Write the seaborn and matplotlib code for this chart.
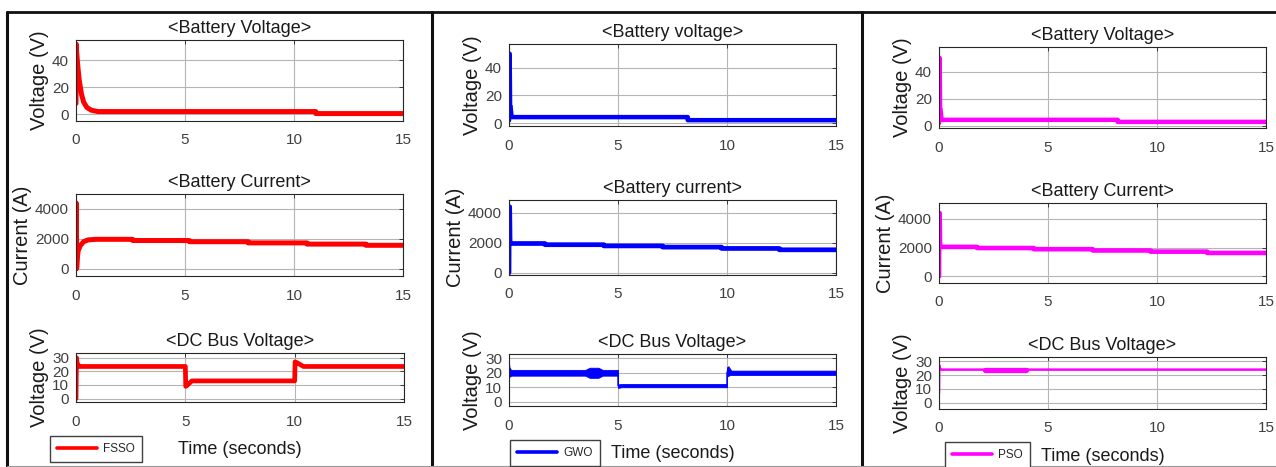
import matplotlib
matplotlib.use("Agg")
import matplotlib.pyplot as plt
from matplotlib.lines import Line2D
import seaborn as sns
import pandas as pd

# ---------------- data (time in seconds) ----------------
# FSSO
fsso_bv_t = [0, 0.01, 0.03, 0.08, 0.15, 0.25, 0.35, 0.5, 0.7, 1.0, 11.0, 11.0, 15]
fsso_bv_v = [8, 52, 46, 36, 25, 15, 9, 5, 3, 2, 2, 0.5, 0.5]
fsso_bc_t = [0, 0.01, 0.03, 0.06, 0.1, 0.2, 0.35, 0.55, 0.9, 2.6, 2.6, 5.2, 5.2,
             7.9, 7.9, 10.6, 10.6, 13.3, 13.3, 15]
fsso_bc_i = [0, 4400, 0, 700, 1200, 1550, 1800, 1920, 1960, 1960, 1880, 1880, 1800,
             1800, 1720, 1720, 1640, 1640, 1560, 1560]
fsso_dc_t = [0, 0.02, 0.05, 0.15, 5.0, 5.02, 5.1, 5.3, 10.0, 10.02, 10.15, 10.4, 15]
fsso_dc_v = [0, 30, 26, 23.6, 23.6, 9, 10, 13, 13, 27, 26, 23.6, 23.6]

# GWO
gwo_bv_t = [0, 0.01, 0.03, 0.05, 0.07, 0.12, 8.2, 8.2, 15]
gwo_bv_v = [2, 50, 50, 12, 12, 4.4, 4.4, 2.2, 2.2]
gwo_bc_t = [0, 0.01, 0.03, 0.05, 1.65, 1.65, 4.35, 4.35, 7.05, 7.05, 9.75, 9.75,
            12.4, 12.4, 15]
gwo_bc_i = [0, 4400, 4400, 1950, 1950, 1870, 1870, 1790, 1790, 1710, 1710, 1620,
            1620, 1530, 1530]
gwo_dc_t = [0, 0.01, 0.05, 5.0, 5.0, 10.0, 10.0, 10.08, 10.25, 15]
gwo_dc_v = [7, 27, 20, 20, 11, 11, 20, 24, 20, 20]
# ripple envelope of the DC bus voltage
gwo_env_t = [0, 0.1, 3.5, 3.7, 4.1, 4.3, 5.0, 5.0, 5.15, 10.0, 10.0, 10.15, 15]
gwo_env_lo = [17, 18, 18, 16.5, 16.5, 18, 18, 9.5, 10, 10, 17.5, 18.5, 18.5]
gwo_env_hi = [24, 22, 22, 23.5, 23.5, 22, 22, 12, 12.2, 12.2, 24, 21.5, 21.5]

# PSO
pso_bv_t = [0, 0.01, 0.03, 0.05, 0.07, 0.12, 8.2, 8.2, 15]
pso_bv_v = [2, 50, 50, 12, 12, 4.5, 4.5, 3, 3]
pso_bc_t = [0, 0.01, 0.03, 0.05, 1.75, 1.75, 4.35, 4.35, 7.05, 7.05, 9.7, 9.7,
            12.3, 12.3, 15]
pso_bc_i = [0, 4400, 4400, 2050, 2050, 1970, 1970, 1890, 1890, 1800, 1800, 1720,
            1720, 1630, 1630]
pso_dc_t = [0, 0.01, 0.04, 0.1, 15]
pso_dc_v = [7, 27, 25, 23.9, 23.9]
pso_dc_burst_t = [2.1, 4.0]
pso_dc_burst_v = [23.9, 23.9]

x_ticks = [0, 5, 10, 15]
volt_ticks = [0, 20, 40]
curr_ticks = [0, 2000, 4000]
bus_ticks = [0, 10, 20, 30]

# ---------------- style ----------------
sns.set_theme(style="white")
plt.rcParams["font.family"] = ["Liberation Sans", "DejaVu Sans"]
plt.rcParams["axes.edgecolor"] = "#262626"
plt.rcParams["axes.linewidth"] = 0.8

W, H = 1276, 467
fig = plt.figure(figsize=(W / 100, H / 100), dpi=100)


def rect(x0, y0, x1, y1):
    return [x0 / W, 1 - y1 / H, (x1 - x0) / W, (y1 - y0) / H]


def style_axes(ax, title, ylabel, yticks, ylim):
    ax.set_xlim(0, 15)
    ax.set_ylim(*ylim)
    ax.set_xticks(x_ticks)
    ax.set_yticks(yticks)
    ax.grid(True, color="#b5b5b5", linewidth=0.8)
    ax.tick_params(direction="in", length=3, width=0.6, top=True, right=True,
                   labelsize=11, labelcolor="#404040", color="#262626")
    ax.tick_params(axis="x", pad=9)
    ax.tick_params(axis="y", pad=5)
    ax.set_title(title, fontsize=13, color="#1a1a1a", pad=5)
    ax.set_ylabel(ylabel, fontsize=14.5, color="#1a1a1a", labelpad=2)
    ax.set_xlabel("")
    for s in ax.spines.values():
        s.set_visible(True)


def line(ax, t, v, color, lw):
    df = pd.DataFrame({"t": t, "v": v})
    sns.lineplot(data=df, x="t", y="v", ax=ax, color=color, linewidth=lw,
                 estimator=None, sort=False, legend=False)


panels = [
    dict(name="FSSO", color="#ff0000",
         rects=[(76, 40, 403, 121), (76, 194, 403, 276), (76, 353, 404, 402)],
         titles=["<Battery Voltage>", "<Battery Current>", "<DC Bus Voltage>"],
         ylims=[(-5, 55), (-500, 5000), (-2.5, 33.5)],
         legend=(50, 436)),
    dict(name="GWO", color="#0000ff",
         rects=[(509, 44, 836, 126), (509, 200, 836, 275), (509, 354, 836, 406)],
         titles=["<Battery voltage>", "<Battery current>", "<DC Bus Voltage>"],
         ylims=[(-2, 57), (-150, 4850), (-3, 33)],
         legend=(510, 440)),
    dict(name="PSO", color="#ff00ff",
         rects=[(939, 47, 1266, 128), (939, 203, 1266, 283), (939, 357, 1266, 409)],
         titles=["<Battery Voltage>", "<Battery Current>", "<DC Bus Voltage>"],
         ylims=[(-1.5, 58), (-460, 5100), (-4.5, 33)],
         legend=(945, 442)),
]

series = {
    "FSSO": [(fsso_bv_t, fsso_bv_v), (fsso_bc_t, fsso_bc_i), (fsso_dc_t, fsso_dc_v)],
    "GWO": [(gwo_bv_t, gwo_bv_v), (gwo_bc_t, gwo_bc_i), (gwo_dc_t, gwo_dc_v)],
    "PSO": [(pso_bv_t, pso_bv_v), (pso_bc_t, pso_bc_i), (pso_dc_t, pso_dc_v)],
}
widths = {"FSSO": [3.6, 3.6, 3.4], "GWO": [3.2, 3.4, 1.0], "PSO": [3.2, 3.3, 1.8]}

for p in panels:
    name, color = p["name"], p["color"]
    axes = [fig.add_axes(rect(*r)) for r in p["rects"]]
    labels = ["Voltage (V)", "Current (A)", "Voltage (V)"]
    ticks = [volt_ticks, curr_ticks, bus_ticks]
    for k, ax in enumerate(axes):
        t, v = series[name][k]
        if name == "GWO" and k == 2:
            ax.fill_between(gwo_env_t, gwo_env_lo, gwo_env_hi, color=color,
                            linewidth=0.6)
        line(ax, t, v, color, widths[name][k])
        if name == "PSO" and k == 2:
            line(ax, pso_dc_burst_t, pso_dc_burst_v, color, 3.8)
        style_axes(ax, p["titles"][k], labels[k], ticks[k], p["ylims"][k])
    axes[2].set_xlabel("Time (seconds)", fontsize=13, color="#1a1a1a", labelpad=9)

    lx, ly = p["legend"]
    handle = Line2D([], [], color=color, linewidth=2.6)
    fig.legend(handles=[handle], labels=[name], loc="upper left",
               bbox_to_anchor=(lx / W, 1 - ly / H), fontsize=8.5,
               frameon=True, fancybox=False, edgecolor="#404040",
               framealpha=1, handlelength=3.4, handletextpad=0.5,
               borderpad=0.6, borderaxespad=0)

# panel frames
frame_kw = dict(color="#111111", transform=fig.transFigure)
fig.add_artist(Line2D([7 / W, 1], [1 - 12 / H, 1 - 12 / H], linewidth=2.0, **frame_kw))
for xv in (7, 432, 862):
    fig.add_artist(Line2D([xv / W, xv / W], [0, 1 - 12 / H], linewidth=2.2, **frame_kw))
fig.add_artist(Line2D([7 / W, 1], [1.5 / H, 1.5 / H], linewidth=0.8,
                      color="#9a9a9a", transform=fig.transFigure))

fig.savefig("out.png", dpi=100, facecolor="white")
